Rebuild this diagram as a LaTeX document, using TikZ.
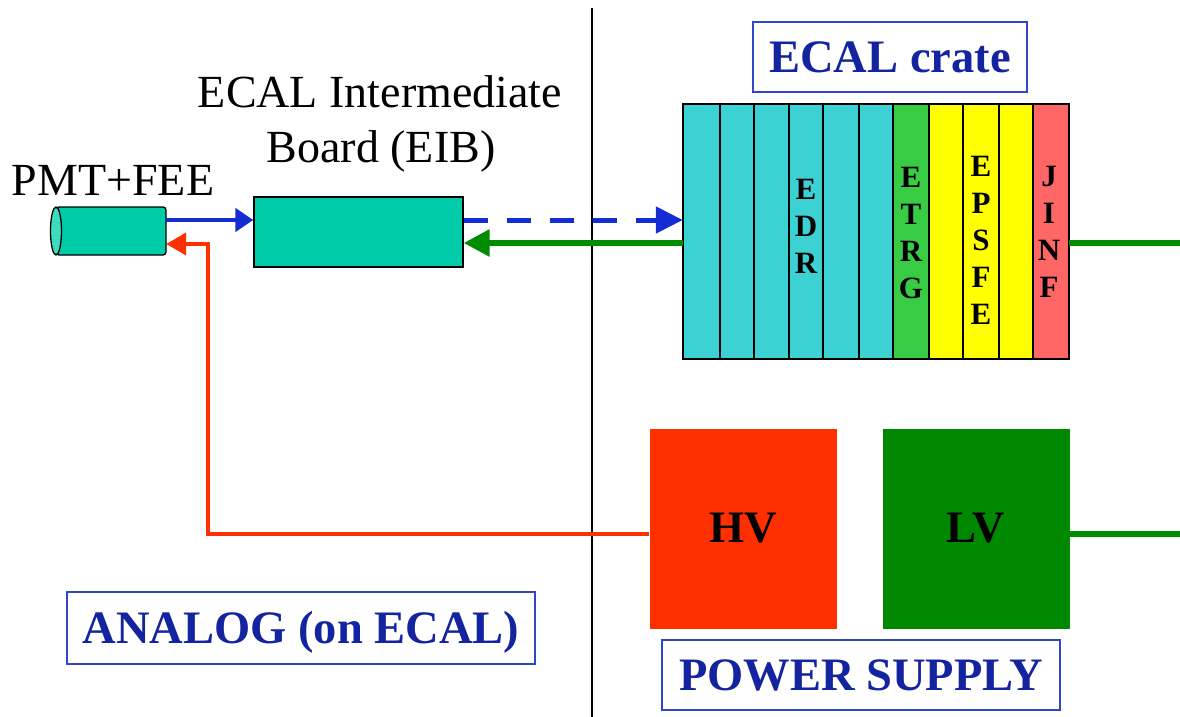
\documentclass[tikz,border=0pt]{standalone}
\usepackage{fontspec}
\setmainfont{Liberation Serif}
\usetikzlibrary{arrows.meta}
\definecolor{eibteal}{RGB}{0,204,170}
\definecolor{capteal}{RGB}{60,220,190}
\definecolor{slotcyan}{RGB}{60,210,212}
\definecolor{slotgreen}{RGB}{56,204,68}
\definecolor{slotyellow}{RGB}{255,255,0}
\definecolor{slotred}{RGB}{255,102,102}
\definecolor{hvred}{RGB}{255,48,0}
\definecolor{lvgreen}{RGB}{0,136,0}
\definecolor{linegreen}{RGB}{0,140,0}
\definecolor{arrowblue}{RGB}{20,45,210}
\definecolor{textblue}{RGB}{20,36,160}
\definecolor{boxblue}{RGB}{50,70,200}
\tikzset{
  plainlabel/.style={font=\fontsize{46}{55}\selectfont, anchor=base, inner sep=0},
  titlebox/.style={draw=boxblue, line width=1.6, text=textblue, font=\fontsize{46.5}{55}\selectfont\bfseries, inner sep=0},
  slotletters/.style={font=\fontsize{31}{37}\selectfont\bfseries, align=center, inner sep=0},
  slotbox/.style={draw=black, line width=1.4},
  psbox/.style={inner sep=0, font=\fontsize{45}{54}\selectfont\bfseries},
  bluearrow/.style={draw=arrowblue, line width=4.5, -{Triangle[length=18pt,width=23pt]}},
  greenarrow/.style={draw=linegreen, line width=6, -{Triangle[length=26pt,width=26pt]}},
  redarrow/.style={draw=hvred, line width=4, -{Triangle[length=20pt,width=22pt]}},
  greenline/.style={draw=linegreen, line width=6},
}
\begin{document}
\begin{tikzpicture}[x=1pt,y=-1pt]
\useasboundingbox (0,0) rectangle (1180,717);

% divider
\coordinate (divtop) at (592,8);
\coordinate (divbot) at (592,717);
\draw[line width=1.5] (divtop) -- (divbot);

% PMT+FEE cylinder
\node[minimum width=115pt, minimum height=48pt, inner sep=0] (pmt) at (108.5,231) {};
\draw[fill=eibteal, line width=1.3, rounded corners=3pt] (56,207) -- (166,207) -- (166,255) -- (56,255) -- cycle;
\draw[fill=capteal, line width=1.3] (56,231) ellipse [x radius=5.5, y radius=24];
\node[plainlabel] (pmtlabel) at (113,195) {PMT+FEE};

% EIB
\node[draw=black, line width=1.3, fill=eibteal, minimum width=209pt, minimum height=70pt, inner sep=0] (eib) at (358.5,232) {};
\node[plainlabel] (eiblabel1) at (380,107) {ECAL Intermediate};
\node[plainlabel] (eiblabel2) at (381,162) {Board (EIB)};

% ECAL crate
\node[minimum width=386pt, minimum height=255pt, inner sep=0] (crate) at (876,231.5) {};
\foreach \xa/\xb/\col [count=\i] in {683/720/slotcyan, 720/754/slotcyan, 754/789/slotcyan, 789/823/slotcyan, 823/859/slotcyan, 859/893/slotcyan, 893/929/slotgreen, 929/963/slotyellow, 963/999/slotyellow, 999/1033/slotyellow, 1033/1069/slotred}
  \draw[slotbox, fill=\col] (\xa,104) rectangle (\xb,359);
\node[slotletters] (edr) at (806,226) {E\\D\\R};
\node[slotletters] (etrg) at (911,232.5) {E\\T\\R\\G};
\node[slotletters] (epsfe) at (981,240) {E\\P\\S\\F\\E};
\node[slotletters] (jinf) at (1049,232) {J\\I\\N\\F};
\node[titlebox, minimum width=274pt, minimum height=70pt] (cratelabel) at (890,57) {ECAL crate};

% power supply
\node[fill=hvred, psbox, minimum width=187pt, minimum height=200pt] (hv) at (743,528.5) {HV};
\node[fill=lvgreen, psbox, minimum width=187pt, minimum height=200pt] (lv) at (976,528.5) {LV};
\node[titlebox, minimum width=398pt, minimum height=70pt] (pslabel) at (861,675) {POWER SUPPLY};

\node[titlebox, minimum width=468pt, minimum height=72pt, text height=31pt, text depth=0pt] (analog) at (301,628) {ANALOG (on ECAL)};

% connectors
\draw[bluearrow] ([yshift=11pt]pmt.east) -- ([yshift=12pt]eib.west);
\draw[bluearrow, line width=5, dash pattern=on 24pt off 19pt, -{Triangle[length=27pt,width=26pt]}] ([yshift=12pt]eib.east) -- ([yshift=11.5pt]crate.west);
\draw[greenarrow] ([yshift=-11.5pt]crate.west) -- ([yshift=-11pt]eib.east);
\coordinate (crateout) at (1180,243);
\draw[greenline] ([yshift=-11.5pt]crate.east) -- (crateout);
\coordinate (lvout) at (1180,534);
\draw[greenline] ([yshift=-5.5pt]lv.east) -- (lvout);
\coordinate (redcorner) at (208,244);
\draw[redarrow] ([yshift=-5.5pt]hv.west) -| (redcorner) -- ([yshift=-13pt]pmt.east);
\end{tikzpicture}
\end{document}
